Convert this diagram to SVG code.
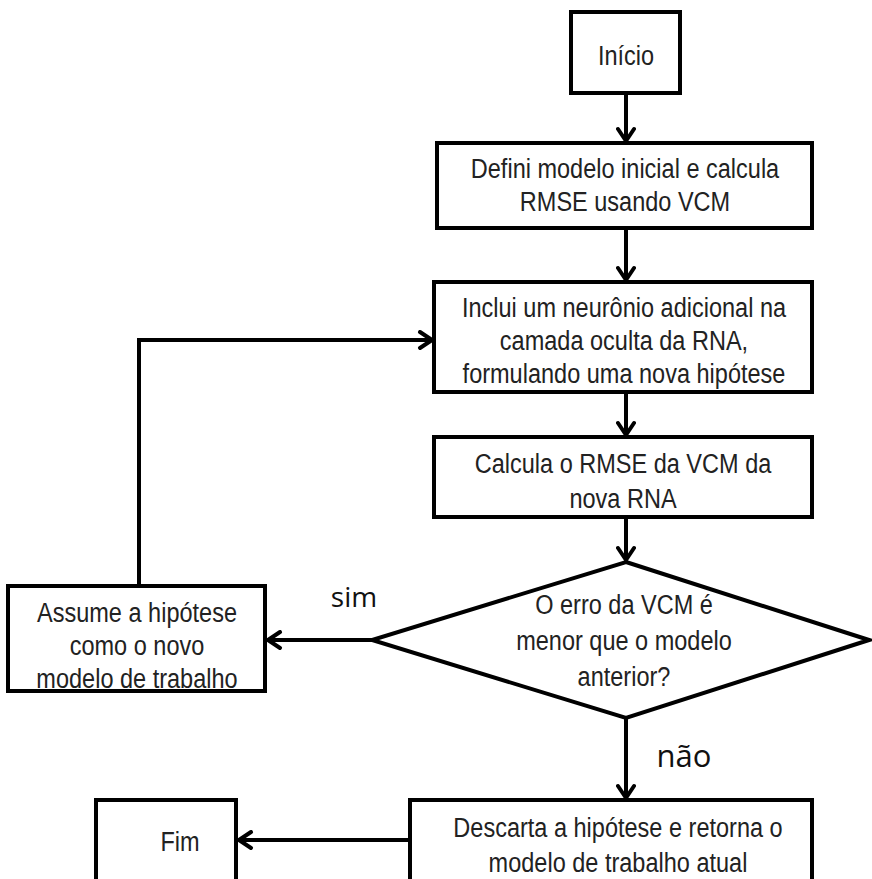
<svg xmlns="http://www.w3.org/2000/svg" width="872" height="879" viewBox="0 0 872 879">
<defs>
<style>
.box{fill:#fff;stroke:#000;stroke-width:4}
.t{font-family:"Liberation Sans",Arial,sans-serif;font-size:28px;fill:#222;text-anchor:middle}
.lbl{font-family:"Open Sans","Noto Sans",sans-serif;fill:#111;text-anchor:middle}
.c{fill:none;stroke:#000;stroke-width:4}
</style>
<marker id="ah" viewBox="0 0 20 20" refX="17" refY="10" markerWidth="20" markerHeight="20" markerUnits="userSpaceOnUse" orient="auto">
<polyline points="5,2 17,10 5,18" fill="none" stroke="#000" stroke-width="4" stroke-linecap="round" stroke-linejoin="round"/>
</marker>
</defs>
<rect width="872" height="879" fill="#fff"/>
<g id="connectors">
<line class="c" x1="626" y1="93" x2="626" y2="141" marker-end="url(#ah)"/>
<line class="c" x1="626" y1="228" x2="626" y2="280" marker-end="url(#ah)"/>
<line class="c" x1="626" y1="392" x2="626" y2="435" marker-end="url(#ah)"/>
<line class="c" x1="626" y1="517" x2="626" y2="560" marker-end="url(#ah)"/>
<line class="c" x1="372" y1="640" x2="268" y2="640" marker-end="url(#ah)"/>
<polyline class="c" points="139,586 139,340 432,340" marker-end="url(#ah)"/>
<line class="c" x1="626" y1="718" x2="626" y2="798" marker-end="url(#ah)"/>
<line class="c" x1="410" y1="840" x2="239" y2="840" marker-end="url(#ah)"/>
<text class="lbl" x="354" y="607" font-size="28">sim</text>
<text class="lbl" x="684" y="767" font-size="31">não</text>
</g>
<g id="inicio">
<rect class="box" x="571" y="12" width="109" height="81"/>
<text class="t" transform="matrix(0.84 0 0 1 626 0)" x="0" y="65">Início</text>
</g>
<g id="definir">
<rect class="box" x="437" y="143" width="375" height="85"/>
<text class="t" transform="matrix(0.84 0 0 1 625 0)" x="0" y="178">Defini modelo inicial e calcula</text>
<text class="t" transform="matrix(0.84 0 0 1 625 0)" x="0" y="211">RMSE usando VCM</text>
</g>
<g id="incluir">
<rect class="box" x="434" y="282" width="378" height="110"/>
<text class="t" transform="matrix(0.84 0 0 1 624 0)" x="0" y="317">Inclui um neurônio adicional na</text>
<text class="t" transform="matrix(0.84 0 0 1 624 0)" x="0" y="350">camada oculta da RNA,</text>
<text class="t" transform="matrix(0.84 0 0 1 624 0)" x="0" y="383">formulando uma nova hipótese</text>
</g>
<g id="calcular">
<rect class="box" x="434" y="437" width="378" height="80"/>
<text class="t" transform="matrix(0.84 0 0 1 623 0)" x="0" y="473">Calcula o RMSE da VCM da</text>
<text class="t" transform="matrix(0.84 0 0 1 623 0)" x="0" y="508">nova RNA</text>
</g>
<g id="decisao">
<polygon class="box" points="626,562 869,640 626,718 372,640"/>
<text class="t" transform="matrix(0.84 0 0 1 624 0)" x="0" y="614">O erro da VCM é</text>
<text class="t" transform="matrix(0.84 0 0 1 624 0)" x="0" y="650">menor que o modelo</text>
<text class="t" transform="matrix(0.84 0 0 1 624 0)" x="0" y="686">anterior?</text>
</g>
<g id="assumir">
<rect class="box" x="8" y="586" width="257" height="105"/>
<text class="t" transform="matrix(0.84 0 0 1 137 0)" x="0" y="622">Assume a hipótese</text>
<text class="t" transform="matrix(0.84 0 0 1 137 0)" x="0" y="655">como o novo</text>
<text class="t" transform="matrix(0.84 0 0 1 137 0)" x="0" y="688">modelo de trabalho</text>
</g>
<g id="descartar">
<rect class="box" x="410" y="800" width="402" height="90"/>
<text class="t" transform="matrix(0.84 0 0 1 618 0)" x="0" y="837">Descarta a hipótese e retorna o</text>
<text class="t" transform="matrix(0.84 0 0 1 618 0)" x="0" y="872">modelo de trabalho atual</text>
</g>
<g id="fim">
<rect class="box" x="96" y="800" width="140" height="90"/>
<text class="t" transform="matrix(0.84 0 0 1 180 0)" x="0" y="851">Fim</text>
</g>
</svg>
